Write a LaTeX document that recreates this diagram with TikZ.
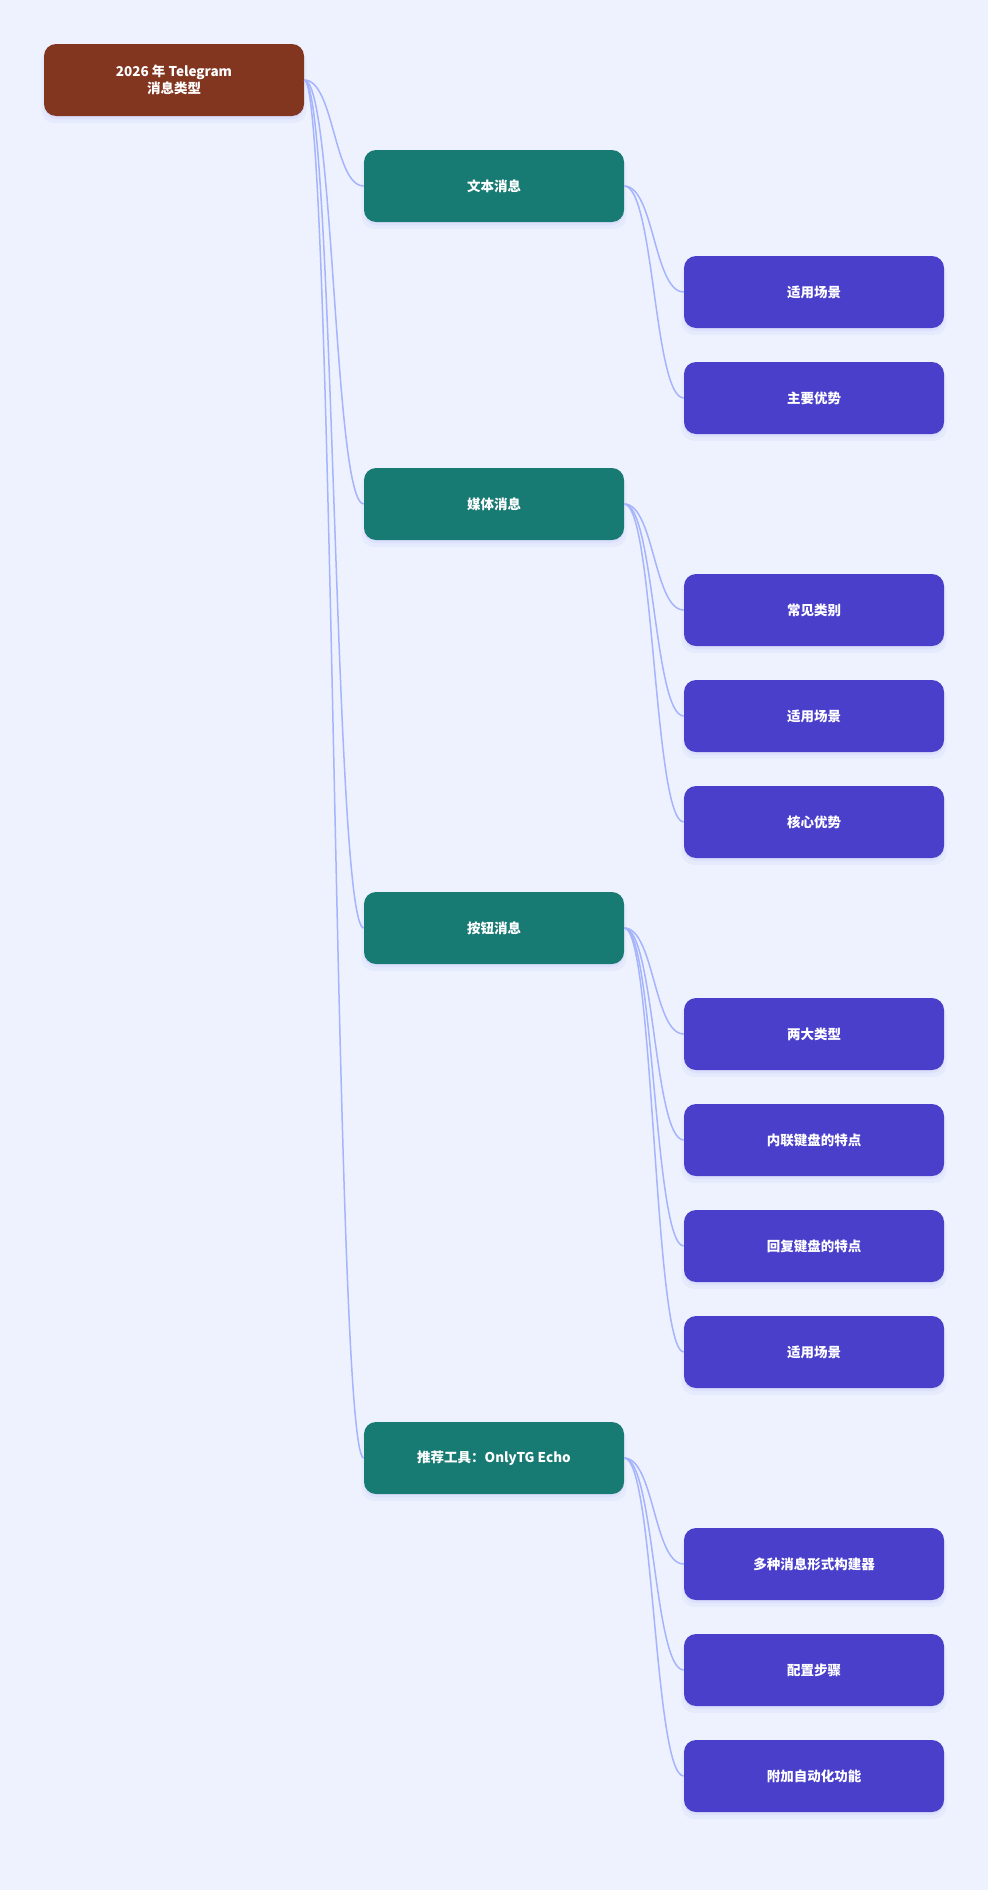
\documentclass[tikz,border=0pt]{standalone}
\usepackage{fontspec}
\setmainfont{Noto Sans CJK SC}
\usetikzlibrary{shadows}
\definecolor{bgc}{HTML}{EEF2FE}
\definecolor{rootc}{HTML}{82351F}
\definecolor{midc}{HTML}{177A73}
\definecolor{leafc}{HTML}{4A3FCB}
\definecolor{edgec}{HTML}{A5B4FC}
\definecolor{shadc}{HTML}{6366F1}
\begin{document}
\begin{tikzpicture}[x=1pt,y=-1pt,
  box/.style={rounded corners=12pt, minimum width=260pt, minimum height=72pt,
    text=white, font=\bfseries\fontsize{13.5}{17}\selectfont, align=center, inner sep=0pt,
    general shadow={shadow xshift=0pt, shadow yshift=-6pt, shadow scale=1.02, opacity=0.05, fill=shadc},
    drop shadow={shadow xshift=0pt, shadow yshift=-3pt, opacity=0.07, fill=shadc}},
  rootbox/.style={box, fill=rootc},
  midbox/.style={box, fill=midc},
  leafbox/.style={box, fill=leafc},
  edge/.style={draw=edgec, line width=1.5pt}]
\fill[bgc] (0,0) rectangle (988,1890);
\useasboundingbox (0,0) rectangle (988,1890);

\node[rootbox] (root) at (174,80) {2026 年 Telegram\\消息类型};

\node[midbox] (m1) at (494,186) {文本消息};
\node[midbox] (m2) at (494,504) {媒体消息};
\node[midbox] (m3) at (494,928) {按钮消息};
\node[midbox] (m4) at (494,1458) {推荐工具：OnlyTG Echo};

\node[leafbox] (a1) at (814,292) {适用场景};
\node[leafbox] (a2) at (814,398) {主要优势};

\node[leafbox] (b1) at (814,610) {常见类别};
\node[leafbox] (b2) at (814,716) {适用场景};
\node[leafbox] (b3) at (814,822) {核心优势};

\node[leafbox] (c1) at (814,1034) {两大类型};
\node[leafbox] (c2) at (814,1140) {内联键盘的特点};
\node[leafbox] (c3) at (814,1246) {回复键盘的特点};
\node[leafbox] (c4) at (814,1352) {适用场景};

\node[leafbox] (d1) at (814,1564) {多种消息形式构建器};
\node[leafbox] (d2) at (814,1670) {配置步骤};
\node[leafbox] (d3) at (814,1776) {附加自动化功能};

\foreach \c in {m1,m2,m3,m4}
  \draw[edge] (root.east) .. controls +(30,0) and +(-30,0) .. (\c.west);
\foreach \c in {a1,a2}
  \draw[edge] (m1.east) .. controls +(30,0) and +(-30,0) .. (\c.west);
\foreach \c in {b1,b2,b3}
  \draw[edge] (m2.east) .. controls +(30,0) and +(-30,0) .. (\c.west);
\foreach \c in {c1,c2,c3,c4}
  \draw[edge] (m3.east) .. controls +(30,0) and +(-30,0) .. (\c.west);
\foreach \c in {d1,d2,d3}
  \draw[edge] (m4.east) .. controls +(30,0) and +(-30,0) .. (\c.west);
\end{tikzpicture}
\end{document}
